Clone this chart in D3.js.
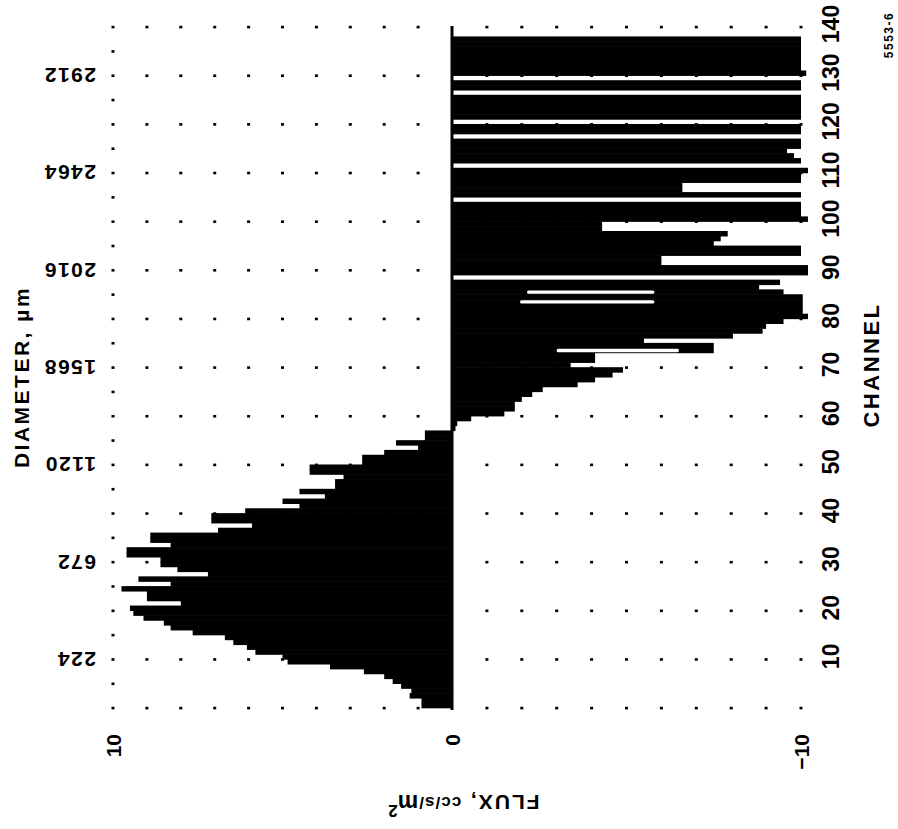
<!DOCTYPE html>
<html lang="en">
<head>
    <meta charset="UTF-8">
    <title>Flux by channel</title>
    <style>
        body { margin: 0; background: #fff; }
        svg { display: block; }
        text { font-family: "Liberation Sans", Arial, Helvetica, sans-serif; font-weight: bold; fill: #000; }
        .narrow { font-family: "Liberation Sans Narrow", "Arial Narrow", "Liberation Sans", sans-serif; }
    </style>
    <script src="https://cdn.jsdelivr.net/npm/d3@7"></script>
</head>
<body>
    <div id="chart"></div>
    <script>
        const { boxWidth, boxHeight } = { boxWidth: 898, boxHeight: 829 }

        // flux, channels 1-57 (positive side)
        const positiveFlux = [
            0.9, 0.9, 1.25, 1.2, 1.5, 1.75, 2.0, 2.6, 3.6, 4.85,
            5.0, 5.8, 6.05, 6.45, 6.7, 7.65, 8.3, 8.5, 9.1, 9.4,
            9.5, 8.0, 9.0, 9.0, 9.75, 8.3, 9.25, 7.2, 8.1, 8.6,
            8.6, 9.6, 9.6, 8.3, 8.9, 8.9, 6.9, 5.9, 7.1, 7.1,
            6.1, 4.5, 5.0, 3.75, 4.5, 3.45, 3.45, 3.2, 4.2, 4.2,
            2.65, 2.65, 2.0, 1.0, 1.65, 0.8, 0.8
        ]

        // channels 58-138 (negative side), 0 = empty channel
        const negativeFlux = [
            -0.1, -0.15, -0.55, -1.5, -1.8, -1.8, -2.0, -2.3, -2.6, -3.6,
            -4.1, -4.6, -4.9, -3.4, -4.1, -4.1, -7.5, -7.5, -5.5, -8.05,
            -8.9, -9.0, -9.5, -10.2, -10.05, -10.05, -10.05, -10.05, -9.5, -8.8,
            -9.4, 0, -10.2, -10.2, -6.0, -6.0, -10.0, -10.0, -7.5, -7.7,
            -7.9, -4.3, -4.3, -10.2, -10.0, -10.0, -10.0, 0, -10.0, -6.6,
            -6.6, -10.0, -10.0, -10.2, 0, -10.0, -9.8, -9.6, -10.0, -10.0,
            0, -10.0, -10.0, 0, -10.0, -10.0, -10.0, -10.0, -10.0, 0,
            -10.0, -10.0, 0, -10.15, -10.0, -10.0, -10.0, -10.0, -10.0, -10.0,
            -10.0
        ]

        // thin white breaks inside some of the negative bars
        const streakChannels = [74, 84, 86]
        const streakFrom = [-3.0, -1.95, -2.15]
        const streakTo = [-6.5, -5.8, -5.8]

        const channelTicks = [10, 20, 30, 40, 50, 60, 70, 80, 90, 100, 110, 120, 130, 140]
        const diameterChannels = [10, 30, 50, 70, 90, 110, 130]
        const diameterLabels = ["224", "672", "1120", "1568", "2016", "2464", "2912"]
        const fluxTicks = [10, 0, -10]
        const fluxTickLabels = ["10", "0", "\u221210"]
        const gridFlux = [10, 9, 8, 7, 6, 5, 4, 3, 2, 1, -1, -2, -3, -4, -5, -6, -7, -8, -9, -10]
        const gridChannels = [0, 10, 20, 30, 40, 50, 60, 70, 80, 90, 100, 110, 120, 130, 140]
        const minorChannels = [5, 15, 25, 35, 45, 55, 65, 75, 85, 95, 105, 115, 125, 135]

        const fluxData = positiveFlux.concat(negativeFlux).map((v, i) => ({ channel: i + 1, flux: v }))

        const xScale = d3.scaleLinear().domain([10, 0, -10]).range([113, 452, 801])
        const yScale = d3.scaleLinear().domain([0, 140]).range([708, 27])

        const svg = d3.select("#chart").append("svg")
            .attr("width", boxWidth).attr("height", boxHeight)
        svg.append("rect").attr("width", boxWidth).attr("height", boxHeight).attr("fill", "#fff")

        const g = svg.append("g").attr("id", "mainGroup")

        // bars
        g.selectAll(".bar").data(fluxData.filter(d => d.flux !== 0)).join("rect")
            .attr("class", "bar")
            .attr("x", d => Math.min(xScale(0), xScale(d.flux)))
            .attr("width", d => Math.abs(xScale(d.flux) - xScale(0)))
            .attr("y", d => yScale(d.channel) - 0.3)
            .attr("height", d => yScale(d.channel - 1) - yScale(d.channel) + 0.6)
            .attr("fill", "#000")

        g.selectAll(".streak").data(streakChannels).join("rect")
            .attr("class", "streak")
            .attr("x", (d, i) => xScale(streakFrom[i]))
            .attr("width", (d, i) => xScale(streakTo[i]) - xScale(streakFrom[i]))
            .attr("y", d => yScale(d - 0.5) - 1.7)
            .attr("height", 3.4)
            .attr("rx", 1.5)
            .attr("fill", "#fff")

        // zero line
        g.append("rect")
            .attr("x", xScale(0) - 1.5).attr("width", 3)
            .attr("y", yScale(140) - 1).attr("height", yScale(0) - yScale(140) + 3)
            .attr("fill", "#000")

        // dot grid
        const dots = []
        gridChannels.forEach(c => gridFlux.forEach(f => dots.push({ c, f })))
        minorChannels.forEach(c => dots.push({ c, f: 10 }))
        g.selectAll(".dot").data(dots).join("rect")
            .attr("class", "dot")
            .attr("x", d => xScale(d.f) - 1.5)
            .attr("y", d => yScale(d.c) - 1.2)
            .attr("width", 3).attr("height", 2.6)
            .attr("fill", "#000")

        // channel axis (right)
        g.selectAll(".chTick").data(channelTicks).join("text")
            .attr("class", "chTick narrow")
            .attr("transform", d => `translate(831, ${yScale(d) - 3}) rotate(-90)`)
            .attr("text-anchor", "middle")
            .attr("dominant-baseline", "central")
            .attr("font-size", 23)
            .text(d => d)

        g.append("text")
            .attr("transform", "translate(871, 365) rotate(-90)")
            .attr("text-anchor", "middle").attr("dominant-baseline", "central")
            .attr("font-size", 22).attr("letter-spacing", 2.5)
            .text("CHANNEL")

        g.append("text")
            .attr("transform", "translate(889, 35) rotate(-90)")
            .attr("text-anchor", "middle").attr("dominant-baseline", "central")
            .attr("font-size", 12).attr("letter-spacing", 1.5)
            .text("5553-6")

        // diameter axis (left, upside down)
        g.selectAll(".dTick").data(diameterChannels).join("text")
            .attr("class", "dTick")
            .attr("transform", d => `translate(96, ${yScale(d)}) rotate(180)`)
            .attr("text-anchor", "start")
            .attr("dominant-baseline", "central")
            .attr("font-size", 21).attr("letter-spacing", 1.5)
            .text((d, i) => diameterLabels[i])

        g.append("text")
            .attr("transform", "translate(21, 377) rotate(-90)")
            .attr("text-anchor", "middle").attr("dominant-baseline", "central")
            .attr("font-size", 21).attr("letter-spacing", 2.5)
            .text("DIAMETER, \u00b5m")

        // flux axis (bottom)
        g.selectAll(".fTick").data(fluxTicks).join("text")
            .attr("class", "fTick")
            .attr("transform", d => `translate(${xScale(d)}, 734) rotate(-90)`)
            .attr("text-anchor", "end")
            .attr("dominant-baseline", "central")
            .attr("font-size", 21)
            .text((d, i) => fluxTickLabels[i])

        const fluxLabel = g.append("text")
            .attr("transform", "translate(464, 803) rotate(180)")
            .attr("text-anchor", "middle").attr("dominant-baseline", "central")
        fluxLabel.append("tspan").attr("font-size", 21).attr("letter-spacing", 2).text("FLUX, ")
        fluxLabel.append("tspan").attr("font-size", 17).attr("letter-spacing", 1).text("cc/s/")
        fluxLabel.append("tspan").attr("font-size", 23).text("m")
        fluxLabel.append("tspan").attr("font-size", 17).attr("dy", -8).text("2")
    </script>
</body>
</html>
